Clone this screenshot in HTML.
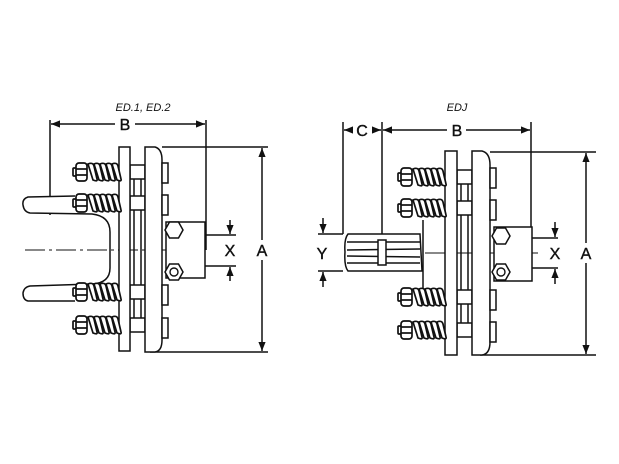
<!DOCTYPE html>
<html><head><meta charset="utf-8"><style>
html,body{margin:0;padding:0;background:#fff;}
svg{display:block;}
text{font-family:"Liberation Sans",sans-serif;fill:#111;}
</style></head><body>
<svg width="619" height="464" viewBox="0 0 619 464" xmlns="http://www.w3.org/2000/svg">
<defs>
<g id="spring" fill="#fff" stroke="#111" stroke-width="1.7">
 <rect x="-15" y="-4" width="4" height="8" rx="1"/>
 <rect x="-12" y="-9" width="11" height="18" rx="3"/>
 <line x1="-12" y1="-3" x2="-1" y2="-3"/><line x1="-12" y1="3" x2="-1" y2="3"/>
 <path d="M0,-8 q5,-2 6,2 l3,13 q1,3 -4,1 z"/>
 <path d="M6,-8 q5,-2 6,2 l3,13 q1,3 -4,1 z"/>
 <path d="M12,-8 q5,-2 6,2 l3,13 q1,3 -4,1 z"/>
 <path d="M18,-8 q5,-2 6,2 l3,13 q1,3 -4,1 z"/>
 <path d="M24,-8 q5,-2 6,2 l3,13 q1,3 -4,1 z"/>
</g>
<g id="hex" fill="#fff" stroke="#111" stroke-width="1.5">
 <polygon points="-9,0 -4.5,-8 4.5,-8 9,0 4.5,8 -4.5,8"/>
</g>
<marker id="ar" viewBox="0 0 10 10" refX="10" refY="5" markerWidth="6" markerHeight="6" orient="auto-start-reverse"><path d="M0,1 L10,5 L0,9 z" fill="#111"/></marker>
</defs>

<g stroke="#111" stroke-width="1.5" fill="none">
<!-- ===== LEFT ===== -->
<line x1="50" y1="120" x2="50" y2="215"/>
<line x1="206" y1="120" x2="206" y2="250"/>
<line x1="51" y1="124" x2="115" y2="124" marker-start="url(#ar)"/>
<line x1="135" y1="124" x2="205" y2="124" marker-end="url(#ar)"/>
<line x1="162" y1="147" x2="268" y2="147"/>
<line x1="150" y1="352" x2="268" y2="352"/>
<line x1="262" y1="148" x2="262" y2="240" marker-start="url(#ar)"/>
<line x1="262" y1="260" x2="262" y2="351" marker-end="url(#ar)"/>
<path d="M75,196 L28,197 Q22,199 23,205 Q24,212 30,213 L92,214 Q110,216 110,232 L110,268 Q110,283 92,284 L30,286 Q24,287 23,293 Q23,300 28,301 L75,301" fill="#fff"/>
<line x1="25" y1="250" x2="205" y2="250" stroke-dasharray="20,4,3,4" stroke-width="1"/>
<rect x="130" y="165" width="15" height="14" fill="#fff"/>
<rect x="130" y="196" width="15" height="14" fill="#fff"/>
<rect x="130" y="285" width="15" height="14" fill="#fff"/>
<rect x="130" y="318" width="15" height="14" fill="#fff"/>
<line x1="134" y1="179" x2="134" y2="196"/><line x1="141" y1="179" x2="141" y2="196"/>
<line x1="134" y1="210" x2="134" y2="285"/><line x1="141" y1="210" x2="141" y2="285"/>
<line x1="134" y1="299" x2="134" y2="318"/><line x1="141" y1="299" x2="141" y2="318"/>
<rect x="119" y="147" width="11" height="204" fill="#fff"/>
<path d="M145,147 L155,147 Q162,149 162,160 L162,340 Q162,351 155,352 L145,352 Z" fill="#fff"/>
<rect x="162" y="163" width="6" height="20" fill="#fff"/>
<rect x="162" y="195" width="6" height="20" fill="#fff"/>
<rect x="162" y="285" width="6" height="20" fill="#fff"/>
<rect x="162" y="318" width="6" height="20" fill="#fff"/>
<rect x="166" y="222" width="39" height="56" fill="#fff"/>
<line x1="205" y1="235" x2="236" y2="235"/>
<line x1="205" y1="266" x2="236" y2="266"/>
<line x1="230" y1="220" x2="230" y2="234" marker-end="url(#ar)"/>
<line x1="230" y1="281" x2="230" y2="267" marker-end="url(#ar)"/>

<!-- ===== RIGHT ===== -->
<line x1="343" y1="122" x2="343" y2="234"/>
<line x1="382" y1="122" x2="382" y2="238"/>
<line x1="531" y1="122" x2="531" y2="252"/>
<line x1="344" y1="130" x2="352" y2="130" marker-start="url(#ar)"/>
<line x1="372" y1="130" x2="381" y2="130" marker-end="url(#ar)"/>
<line x1="383" y1="130" x2="447" y2="130" marker-start="url(#ar)"/>
<line x1="466" y1="130" x2="530" y2="130" marker-end="url(#ar)"/>
<line x1="490" y1="152" x2="596" y2="152"/>
<line x1="480" y1="355" x2="596" y2="355"/>
<line x1="586" y1="153" x2="586" y2="243" marker-start="url(#ar)"/>
<line x1="586" y1="263" x2="586" y2="354" marker-end="url(#ar)"/>
<path d="M348,234 L420,234 L422,271 L348,271 Q344,266 345,252 Q344,239 348,234 Z" fill="#fff"/>
<line x1="347" y1="242" x2="420" y2="242"/>
<line x1="347" y1="250" x2="420" y2="249"/>
<line x1="347" y1="256" x2="420" y2="257"/>
<line x1="347" y1="263" x2="420" y2="263"/>
<rect x="378" y="240" width="8" height="25" fill="#fff"/>
<line x1="318" y1="234" x2="343" y2="234"/>
<line x1="318" y1="271" x2="343" y2="271"/>
<line x1="323" y1="218" x2="323" y2="233" marker-end="url(#ar)"/>
<line x1="323" y1="287" x2="323" y2="272" marker-end="url(#ar)"/>
<line x1="423" y1="220" x2="423" y2="290"/>
<line x1="425" y1="253" x2="540" y2="253" stroke-dasharray="20,4,3,4" stroke-width="1"/>
<rect x="457" y="170" width="15" height="14" fill="#fff"/>
<rect x="457" y="201" width="15" height="14" fill="#fff"/>
<rect x="457" y="290" width="15" height="14" fill="#fff"/>
<rect x="457" y="323" width="15" height="14" fill="#fff"/>
<line x1="461" y1="184" x2="461" y2="201"/><line x1="468" y1="184" x2="468" y2="201"/>
<line x1="461" y1="215" x2="461" y2="290"/><line x1="468" y1="215" x2="468" y2="290"/>
<line x1="461" y1="304" x2="461" y2="323"/><line x1="468" y1="304" x2="468" y2="323"/>
<rect x="445" y="151" width="12" height="204" fill="#fff"/>
<path d="M472,151 L482,151 Q490,153 490,165 L490,342 Q490,354 482,355 L472,355 Z" fill="#fff"/>
<rect x="490" y="168" width="6" height="20" fill="#fff"/>
<rect x="490" y="200" width="6" height="20" fill="#fff"/>
<rect x="490" y="290" width="6" height="20" fill="#fff"/>
<rect x="490" y="322" width="6" height="20" fill="#fff"/>
<rect x="494" y="227" width="38" height="54" fill="#fff"/>
<line x1="532" y1="238" x2="558" y2="238"/>
<line x1="532" y1="268" x2="558" y2="268"/>
<line x1="555" y1="222" x2="555" y2="237" marker-end="url(#ar)"/>
<line x1="555" y1="284" x2="555" y2="269" marker-end="url(#ar)"/>
</g>

<use href="#spring" x="88" y="172"/>
<use href="#spring" x="88" y="203"/>
<use href="#spring" x="88" y="292"/>
<use href="#spring" x="88" y="325"/>
<use href="#hex" x="174" y="230"/>
<use href="#hex" x="174" y="272"/>
<circle cx="174" cy="272" r="4" fill="none" stroke="#111" stroke-width="1.4"/>

<use href="#spring" x="413" y="177"/>
<use href="#spring" x="413" y="208"/>
<use href="#spring" x="413" y="297"/>
<use href="#spring" x="413" y="330"/>
<use href="#hex" x="501" y="236"/>
<use href="#hex" x="501" y="272"/>
<circle cx="501" cy="272" r="4" fill="none" stroke="#111" stroke-width="1.4"/>

<g font-size="16" text-anchor="middle" stroke="#111" stroke-width="0.4">
<text x="143" y="111" font-size="11" font-style="italic" stroke="none">ED.1, ED.2</text>
<text x="125" y="130">B</text>
<text x="262" y="256">A</text>
<text x="230" y="256">X</text>
<text x="457" y="111" font-size="11" font-style="italic" stroke="none">EDJ</text>
<text x="362" y="136">C</text>
<text x="457" y="136">B</text>
<text x="586" y="259">A</text>
<text x="555" y="259">X</text>
<text x="322" y="259">Y</text>
</g>
</svg>
</body></html>
